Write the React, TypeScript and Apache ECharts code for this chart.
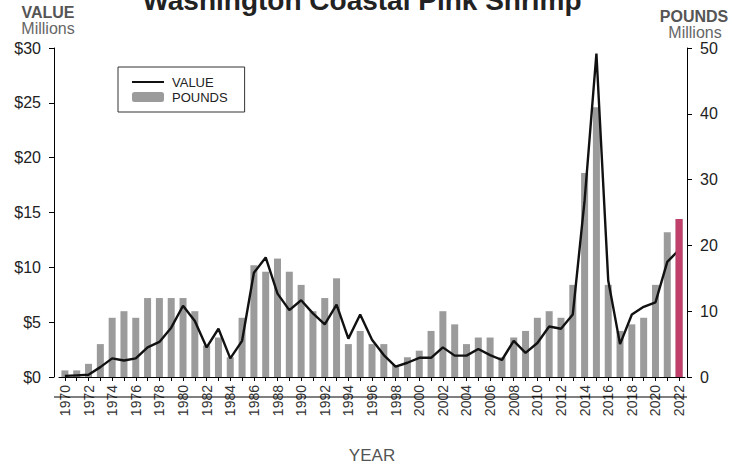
import React, { useEffect, useRef } from "react";
import * as echarts from "echarts";

const years: string[] = [];
for (let y = 1970; y <= 2022; y++) years.push(String(y));

// POUNDS (millions of pounds), right axis
const pounds: number[] = [
  1, 1, 2, 5, 9, 10, 9, 12, 12, 12,
  12, 10, 4.8, 6, 3, 9, 17, 16, 18, 16,
  14, 10, 12, 15, 5, 7, 5, 5, 1.8, 3,
  4, 7, 10, 8, 5, 6, 6, 3, 6, 7,
  9, 10, 9, 14, 31, 41, 14, 7, 8, 9,
  14, 22, 24,
];

// VALUE ($ millions), left axis
const value: number[] = [
  0.1, 0.15, 0.2, 0.9, 1.7, 1.5, 1.7, 2.7, 3.2, 4.5,
  6.5, 5.1, 2.7, 4.4, 1.7, 3.3, 9.5, 10.9, 7.6, 6.1,
  7.0, 5.8, 4.8, 6.6, 3.5, 5.7, 3.4, 2.0, 0.95, 1.3,
  1.75, 1.75, 2.7, 1.95, 1.95, 2.55, 2.0, 1.55, 3.3, 2.2,
  3.1, 4.6, 4.4, 5.7, 16.1, 29.5, 8.8, 3.0, 5.7, 6.4,
  6.8, 10.5, 11.6,
];

const highlightYear = "2022";

const valueTicks = { min: 0, max: 30, interval: 5 };
const poundTicks = { min: 0, max: 50, interval: 10 };

const FONT = "Liberation Sans, Arial, sans-serif";

export default function App() {
  const ref = useRef<HTMLDivElement>(null);

  useEffect(() => {
    if (!ref.current) return;
    const chart = echarts.init(ref.current, undefined, { renderer: "svg" });
    const highlight = years.map((y, i) => (y === highlightYear ? pounds[i] : null));

    chart.setOption({
      animation: false,
      backgroundColor: "#ffffff",
      textStyle: { fontFamily: FONT },
      grid: { left: 59, right: 62, top: 48, height: 349 },
      legend: {
        data: [
          { name: "VALUE", itemStyle: { color: "transparent", borderWidth: 0 } },
          { name: "POUNDS" },
        ],
        orient: "vertical",
        left: 118,
        top: 67,
        itemGap: 1,
        itemWidth: 32,
        itemHeight: 10,
        padding: [8, 17, 8, 13],
        borderColor: "#333",
        borderWidth: 1,
        textStyle: {
          fontSize: 13,
          color: "#222",
          fontFamily: FONT,
          lineHeight: 14,
          padding: [0, 0, 0, 3],
        },
      },
      graphic: [
        {
          type: "text",
          x: 362,
          y: 0,
          style: {
            text: "Washington Coastal Pink Shrimp",
            fontSize: 28,
            fontWeight: "bold",
            fontFamily: FONT,
            fill: "#222",
            align: "center",
            verticalAlign: "middle",
          },
        },
        {
          type: "text",
          x: 48,
          y: 12,
          style: { text: "VALUE", fontSize: 16, fontWeight: "bold", fontFamily: FONT, fill: "#555", align: "center", verticalAlign: "middle" },
        },
        {
          type: "text",
          x: 48,
          y: 28,
          style: { text: "Millions", fontSize: 16, fontFamily: FONT, fill: "#666", align: "center", verticalAlign: "middle" },
        },
        {
          type: "text",
          x: 694,
          y: 16,
          style: { text: "POUNDS", fontSize: 16, fontWeight: "bold", fontFamily: FONT, fill: "#555", align: "center", verticalAlign: "middle" },
        },
        {
          type: "text",
          x: 695,
          y: 32,
          style: { text: "Millions", fontSize: 16, fontFamily: FONT, fill: "#666", align: "center", verticalAlign: "middle" },
        },
        {
          type: "line",
          shape: { x1: 54, y1: 397, x2: 687, y2: 397 },
          style: { stroke: "#000", lineWidth: 1 },
          z: 10,
        },
      ],
      xAxis: {
        type: "category",
        data: years,
        boundaryGap: true,
        name: "YEAR",
        nameLocation: "middle",
        nameGap: 70,
        nameTextStyle: { fontSize: 17, color: "#555", fontFamily: FONT },
        axisLine: { show: true, lineStyle: { color: "#000", width: 1 } },
        axisTick: { show: true, interval: 0, alignWithLabel: true, length: 4, lineStyle: { color: "#000" } },
        axisLabel: { interval: 1, rotate: 90, fontSize: 14, color: "#333", margin: 8, fontFamily: FONT },
        splitLine: { show: false },
      },
      yAxis: [
        {
          type: "value",
          position: "left",
          offset: 5,
          min: valueTicks.min,
          max: valueTicks.max,
          interval: valueTicks.interval,
          axisLine: { show: true, lineStyle: { color: "#000", width: 1 } },
          axisTick: { show: true, length: 5, lineStyle: { color: "#000" } },
          axisLabel: { formatter: "${value}", fontSize: 16, color: "#222", margin: 13, fontFamily: FONT },
          splitLine: { show: false },
        },
        {
          type: "value",
          position: "right",
          offset: 2,
          min: poundTicks.min,
          max: poundTicks.max,
          interval: poundTicks.interval,
          axisLine: { show: true, lineStyle: { color: "#000", width: 1 } },
          axisTick: { show: true, length: 5, lineStyle: { color: "#000" } },
          axisLabel: { fontSize: 16, color: "#222", margin: 13, fontFamily: FONT },
          splitLine: { show: false },
        },
      ],
      series: [
        {
          name: "POUNDS",
          type: "bar",
          yAxisIndex: 1,
          data: pounds,
          barWidth: 7,
          barGap: "-100%",
          itemStyle: { color: "#9b9b9b" },
          z: 2,
        },
        {
          name: "VALUE",
          type: "line",
          yAxisIndex: 0,
          data: value,
          symbol: "none",
          lineStyle: { color: "#111", width: 2.4 },
          itemStyle: { color: "#111" },
          z: 3,
        },
        {
          name: highlightYear,
          type: "bar",
          yAxisIndex: 1,
          data: highlight,
          barWidth: 7,
          barGap: "-100%",
          itemStyle: { color: "#c13f6b" },
          z: 4,
        },
      ],
    });

    return () => chart.dispose();
  }, []);

  return (
    <div
      ref={ref}
      style={{ position: "fixed", left: 0, top: 0, width: 747, height: 469 }}
    />
  );
}
